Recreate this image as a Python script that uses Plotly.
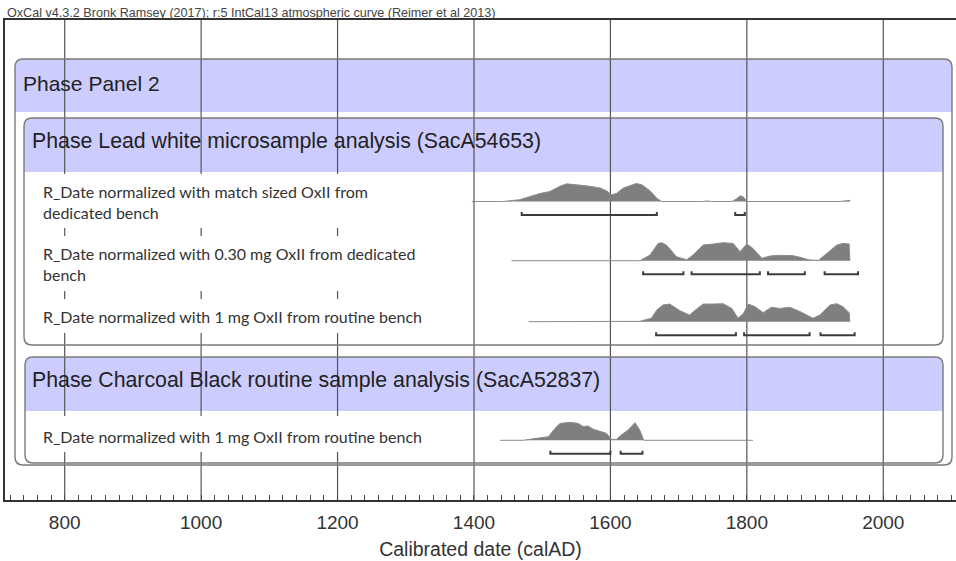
import plotly.graph_objects as go

# ---------------- data ----------------
TITLE = "OxCal v4.3.2 Bronk Ramsey (2017); r:5 IntCal13 atmospheric curve (Reimer et al 2013)"
X_TITLE = "Calibrated date (calAD)"
TICK_VALUES = [800, 1000, 1200, 1400, 1600, 1800, 2000]

PHASE_OUTER = "Phase Panel 2"
PHASE_LEAD = "Phase Lead white microsample analysis (SacA54653)"
PHASE_CHAR = "Phase Charcoal Black routine sample analysis (SacA52837)"

LABEL_A = "R_Date normalized with match sized OxII from<br>dedicated bench"
LABEL_B = "R_Date normalized with 0.30 mg OxII from dedicated<br>bench"
LABEL_C = "R_Date normalized with 1 mg OxII from routine bench"
LABEL_D = "R_Date normalized with 1 mg OxII from routine bench"

A_YEARS = [1397, 1443, 1467, 1497, 1511, 1526, 1536, 1555, 1565, 1585, 1594, 1602, 1609,
           1619, 1633, 1638, 1646, 1658, 1668, 1675, 1735, 1741, 1748, 1778, 1785, 1790,
           1795, 1800, 1935, 1945, 1951, 1951]
A_PROB = [0, 0, 0.10, 0.45, 0.55, 0.85, 0.98, 0.93, 0.87, 0.75, 0.60, 0.38, 0.45,
          0.75, 0.92, 1.00, 0.93, 0.60, 0.18, 0, 0, 0.03, 0, 0, 0.15, 0.32,
          0.25, 0, 0, 0.05, 0.06, 0]
A_RANGE_START = [1470, 1783]
A_RANGE_END = [1668, 1797]

B_YEARS = [1455, 1643, 1658, 1670, 1675, 1682, 1697, 1712, 1721, 1736, 1751, 1765, 1780,
           1790, 1800, 1809, 1822, 1834, 1846, 1858, 1868, 1878, 1892, 1905, 1917, 1932,
           1941, 1950, 1951]
B_PROB = [0, 0, 0.31, 0.96, 1.00, 0.87, 0.22, 0.05, 0.31, 0.87, 0.93, 1.00, 0.96,
          0.50, 0.93, 0.68, 0.13, 0.26, 0.30, 0.31, 0.28, 0.19, 0.04, 0.02, 0.41, 0.87,
          0.96, 0.93, 0]
B_RANGE_START = [1648, 1719, 1831, 1914]
B_RANGE_END = [1707, 1819, 1885, 1963]

C_YEARS = [1480, 1630, 1643, 1660, 1668, 1677, 1687, 1702, 1716, 1726, 1736, 1751, 1765,
           1778, 1787, 1795, 1802, 1812, 1824, 1836, 1848, 1863, 1878, 1897, 1907, 1922,
           1932, 1941, 1950, 1951]
C_PROB = [0, 0, 0.02, 0.19, 0.65, 0.93, 0.98, 0.61, 0.37, 0.69, 0.98, 0.98, 1.00,
          0.74, 0.19, 0.46, 0.98, 0.83, 0.50, 0.80, 0.74, 0.80, 0.56, 0.19, 0.37, 0.93,
          1.00, 0.83, 0.50, 0]
C_RANGE_START = [1667, 1796, 1908]
C_RANGE_END = [1784, 1892, 1958]

D_YEARS = [1438, 1472, 1492, 1509, 1519, 1526, 1541, 1553, 1560, 1567, 1575, 1587, 1594,
           1602, 1609, 1616, 1626, 1636, 1643, 1649, 1809]
D_PROB = [0, 0, 0.11, 0.20, 0.67, 0.94, 1.00, 0.94, 0.76, 0.80, 0.61, 0.48, 0.39,
          0.05, 0.05, 0.30, 0.57, 0.98, 0.57, 0, 0]
D_RANGE_START = [1512, 1615]
D_RANGE_END = [1600, 1647]

# ---------------- layout constants (pixels) ----------------
W, H = 956, 561
PL, PR, PT, PB = 5, 956, 20, 500          # plot area in px
X_RANGE = [712.5, 2106.6]

def px(x):
    return (x - PL) / (PR - PL)

def py(y):
    return (PB - y) / (PB - PT)

ROWS = [
    dict(years=A_YEARS, prob=A_PROB, rs=A_RANGE_START, re=A_RANGE_END, base=201.5,
         label=LABEL_A, label_y=202, box=(174, 228)),
    dict(years=B_YEARS, prob=B_PROB, rs=B_RANGE_START, re=B_RANGE_END, base=260.7,
         label=LABEL_B, label_y=263.5, box=(236, 291)),
    dict(years=C_YEARS, prob=C_PROB, rs=C_RANGE_START, re=C_RANGE_END, base=321.7,
         label=LABEL_C, label_y=316.7, box=(299, 333)),
    dict(years=D_YEARS, prob=D_PROB, rs=D_RANGE_START, re=D_RANGE_END, base=440.3,
         label=LABEL_D, label_y=436.7, box=(416, 452)),
]
UNIT = 18.0       # px for probability 1
HALF = 24.0       # half-height of each row axis in px
BAR_OFF = 0.75
BAR_UP = 0.17

BLUE = "rgb(204,204,255)"
EDGE = "#7a7a7a"
GRID = "#555555"
DENS = "#7f7f7f"

fig = go.Figure()

# invisible trace for main subplot
fig.add_trace(go.Scatter(x=[X_RANGE[0]], y=[0], mode="markers",
                         marker=dict(opacity=0), hoverinfo="skip", showlegend=False))

layout_axes = {}
for i, r in enumerate(ROWS):
    n = i + 2
    yname = f"y{n}"
    fig.add_trace(go.Scatter(
        x=r["years"], y=r["prob"], mode="lines", fill="tozeroy",
        fillcolor=DENS, line=dict(color="#8c8c8c", width=1),
        xaxis="x", yaxis=yname, showlegend=False, hoverinfo="skip"))
    bx, by = [], []
    for s, e in zip(r["rs"], r["re"]):
        bx += [s, s, e, e, None]
        by += [-BAR_OFF + BAR_UP, -BAR_OFF, -BAR_OFF, -BAR_OFF + BAR_UP, None]
    fig.add_trace(go.Scatter(
        x=bx, y=by, mode="lines", line=dict(color="#3c3c3c", width=2),
        xaxis="x", yaxis=yname, showlegend=False, hoverinfo="skip"))
    layout_axes[f"yaxis{n}"] = dict(
        domain=[py(r["base"] + HALF), py(r["base"] - HALF)],
        range=[-HALF / UNIT, HALF / UNIT], visible=False, fixedrange=True,
        anchor="x")

shapes = []

def rrect_path(x0, y0, x1, y1, r):
    pts = [
        ("M", [(x0 + r, y0)]), ("L", [(x1 - r, y0)]), ("Q", [(x1, y0), (x1, y0 + r)]),
        ("L", [(x1, y1 - r)]), ("Q", [(x1, y1), (x1 - r, y1)]), ("L", [(x0 + r, y1)]),
        ("Q", [(x0, y1), (x0, y1 - r)]), ("L", [(x0, y0 + r)]), ("Q", [(x0, y0), (x0 + r, y0)]),
    ]
    return " ".join(c + " " + " ".join(f"{px(a):.5f},{py(b):.5f}" for a, b in p)
                    for c, p in pts) + " Z"

def header_path(x0, y0, x1, yh, r):
    pts = [
        ("M", [(x0, yh)]), ("L", [(x0, y0 + r)]), ("Q", [(x0, y0), (x0 + r, y0)]),
        ("L", [(x1 - r, y0)]), ("Q", [(x1, y0), (x1, y0 + r)]), ("L", [(x1, yh)]),
    ]
    return " ".join(c + " " + " ".join(f"{px(a):.5f},{py(b):.5f}" for a, b in p)
                    for c, p in pts) + " Z"

BOXES = [
    dict(x0=15, y0=59, x1=952, y1=465, yh=112),
    dict(x0=24, y0=118, x1=943, y1=345, yh=172),
    dict(x0=25, y0=357, x1=943, y1=463, yh=411),
]

# header fills
for b in BOXES:
    shapes.append(dict(type="path", xref="paper", yref="paper", layer="below",
                       path=header_path(b["x0"], b["y0"], b["x1"], b["yh"], 8),
                       fillcolor=BLUE, line=dict(width=0)))
# gridlines
for t in TICK_VALUES:
    shapes.append(dict(type="line", xref="x", yref="paper", layer="below",
                       x0=t, x1=t, y0=0, y1=1, line=dict(color=GRID, width=1.2)))
# white label backgrounds covering gridlines
for r in ROWS:
    shapes.append(dict(type="rect", xref="paper", yref="paper", layer="below",
                       x0=px(30), x1=px(466), y0=py(r["box"][1]), y1=py(r["box"][0]),
                       fillcolor="white", line=dict(width=0)))
# box outlines
for b in BOXES:
    shapes.append(dict(type="path", xref="paper", yref="paper", layer="below",
                       path=rrect_path(b["x0"], b["y0"], b["x1"], b["y1"], 8),
                       fillcolor="rgba(0,0,0,0)", line=dict(color=EDGE, width=1.4)))

annotations = [
    dict(text=TITLE, xref="paper", yref="paper", x=px(5), y=py(13), xanchor="left",
         yanchor="middle", showarrow=False,
         font=dict(family="Liberation Sans", size=12.6, color="#444")),
    dict(text=PHASE_OUTER, xref="paper", yref="paper", x=px(21), y=py(84), xanchor="left",
         yanchor="middle", showarrow=False,
         font=dict(family="Liberation Sans", size=21, color="#222")),
    dict(text=PHASE_LEAD, xref="paper", yref="paper", x=px(30), y=py(141), xanchor="left",
         yanchor="middle", showarrow=False,
         font=dict(family="Liberation Sans", size=21.3, color="#222")),
    dict(text=PHASE_CHAR, xref="paper", yref="paper", x=px(30), y=py(380), xanchor="left",
         yanchor="middle", showarrow=False,
         font=dict(family="Liberation Sans", size=21.3, color="#222")),
]
for r in ROWS:
    annotations.append(dict(text=r["label"], xref="paper", yref="paper", x=px(41),
                            y=py(r["label_y"]), xanchor="left", yanchor="middle",
                            align="left", showarrow=False,
                            font=dict(family="Lato", size=16, color="#333")))

fig.update_layout(
    width=W, height=H,
    margin=dict(l=PL, r=W - PR, t=PT, b=H - PB, pad=0),
    paper_bgcolor="white", plot_bgcolor="rgba(0,0,0,0)",
    showlegend=False,
    xaxis=dict(range=X_RANGE, tickvals=TICK_VALUES, ticks="", showgrid=False,
               zeroline=False, showline=True, linecolor="#333", linewidth=2,
               mirror=True, automargin=False, fixedrange=True,
               tickfont=dict(family="Liberation Sans", size=19, color="#333"),
               ticklabelstandoff=4,
               minor=dict(dtick=20, tick0=0, ticks="inside", ticklen=5, tickwidth=1,
                          tickcolor="#444", showgrid=False),
               title=dict(text=X_TITLE, standoff=11,
                          font=dict(family="Liberation Sans", size=19.5, color="#333"))),
    yaxis=dict(domain=[0, 1], range=[0, 1], showline=True, linecolor="#333", linewidth=2,
               showticklabels=False, ticks="", showgrid=False, zeroline=False,
               automargin=False, fixedrange=True),
    shapes=shapes,
    annotations=annotations,
    **layout_axes,
)

fig.write_html("out.html")
